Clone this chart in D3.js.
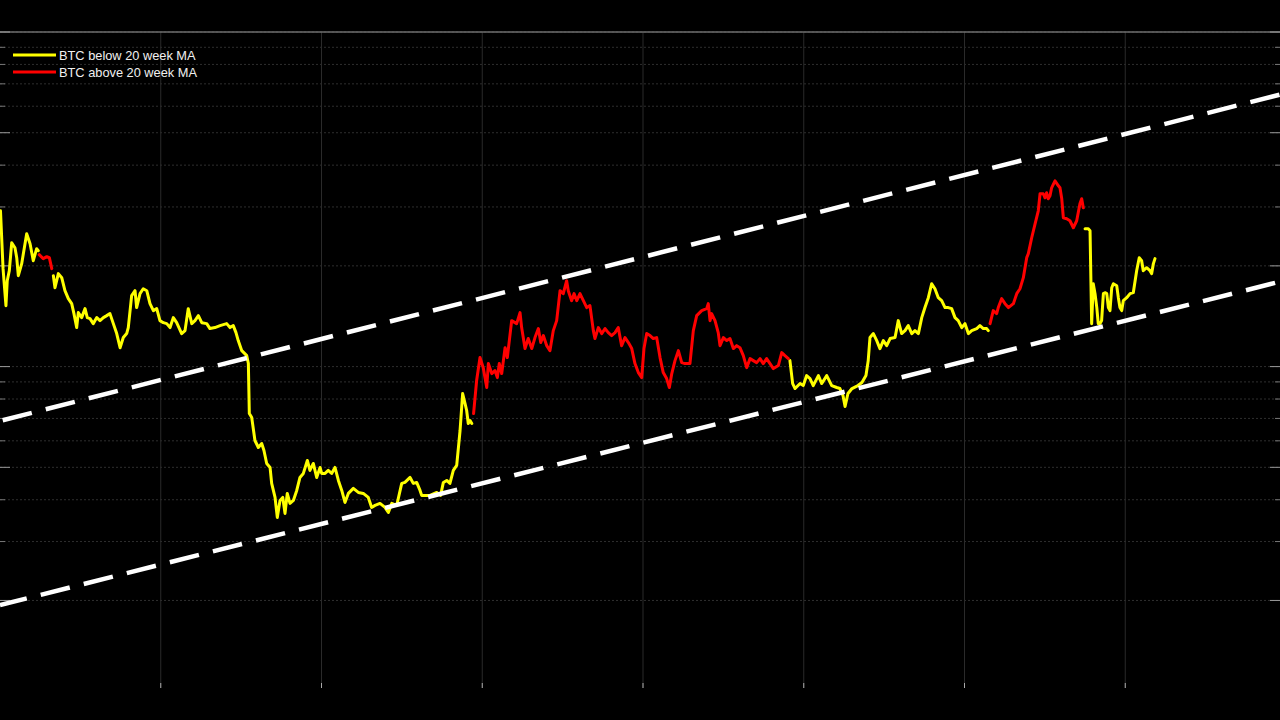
<!DOCTYPE html>
<html>
<head>
<meta charset="utf-8">
<script src="https://cdn.jsdelivr.net/npm/d3@7"></script>
<style>
  html, body { margin: 0; padding: 0; background: #000; }
  svg { display: block; }
</style>
</head>
<body>
<svg id="chart" width="1280" height="720"></svg>
<script>
// ---------------- DATA ----------------
// time (fractional years) and price (log scale)
const t = [
2015.003,2015.019,2015.037,2015.045,2015.058,2015.073,2015.093,2015.104,2015.114,2015.135,2015.166,2015.187,2015.207,2015.228,2015.238,
2015.244,2015.269,2015.291,2015.307,2015.322,
2015.332,2015.342,2015.363,2015.384,2015.404,2015.425,2015.446,2015.460,2015.477,2015.487,2015.508,2015.529,2015.543,2015.560,2015.580,
2015.602,2015.622,2015.643,2015.664,2015.684,2015.705,2015.726,2015.747,2015.767,2015.788,2015.798,2015.819,2015.840,2015.850,2015.871,
2015.891,2015.913,2015.933,2015.954,2015.975,2015.995,2016.016,2016.037,2016.058,2016.078,2016.099,2016.130,2016.151,2016.171,2016.193,
2016.213,2016.234,2016.255,2016.286,2016.306,2016.337,2016.369,2016.410,2016.431,2016.451,2016.468,2016.482,2016.504,2016.535,2016.545,
2016.551,2016.566,2016.586,2016.607,2016.628,2016.642,2016.659,2016.680,2016.690,2016.711,2016.725,2016.742,2016.759,2016.773,2016.787,
2016.804,2016.825,2016.846,2016.866,2016.887,2016.912,2016.928,2016.949,2016.970,2016.991,2017.001,2017.022,2017.042,2017.063,2017.084,
2017.105,2017.126,2017.146,2017.167,2017.198,2017.229,2017.260,2017.291,2017.312,2017.333,2017.364,2017.395,2017.416,2017.437,2017.468,
2017.499,2017.519,2017.551,2017.571,2017.592,2017.613,2017.623,2017.675,2017.717,2017.741,2017.758,2017.779,2017.799,2017.820,2017.841,
2017.862,2017.878,2017.893,2017.903,2017.913,2017.924,2017.935,
2017.946,2017.965,2017.986,2018.006,2018.028,2018.038,2018.059,2018.079,2018.094,2018.106,2018.121,2018.142,2018.156,2018.183,2018.214,
2018.235,2018.245,2018.266,2018.286,2018.308,2018.328,2018.349,2018.364,2018.380,2018.401,2018.421,2018.442,2018.463,2018.484,2018.504,
2018.525,2018.535,2018.556,2018.571,2018.588,2018.608,2018.629,2018.650,2018.670,2018.691,2018.701,2018.722,2018.743,2018.764,2018.784,
2018.805,2018.826,2018.846,2018.867,2018.888,2018.909,2018.930,2018.950,2018.971,2018.992,2019.006,2019.023,2019.044,2019.064,2019.085,
2019.106,2019.126,2019.147,2019.164,2019.179,2019.199,2019.220,2019.241,2019.261,2019.292,2019.313,2019.334,2019.365,2019.396,2019.406,
2019.417,2019.427,2019.448,2019.468,2019.479,2019.500,2019.521,2019.541,2019.562,2019.583,2019.603,2019.624,2019.645,2019.666,2019.686,
2019.707,2019.728,2019.748,2019.769,2019.790,2019.811,2019.842,2019.863,2019.883,2019.904,
2019.914,2019.931,2019.946,2019.977,2019.997,2020.018,2020.039,2020.059,2020.091,2020.112,2020.143,2020.174,2020.205,2020.225,2020.244,
2020.257,2020.275,2020.300,2020.337,2020.362,2020.387,2020.401,2020.412,2020.433,2020.454,2020.474,2020.495,2020.516,2020.537,2020.568,
2020.588,2020.609,2020.630,2020.650,2020.672,2020.692,2020.713,2020.734,2020.754,2020.775,2020.796,2020.816,2020.837,2020.858,2020.879,
2020.899,2020.920,2020.941,2020.961,2020.983,2021.003,2021.024,2021.045,2021.076,2021.096,2021.117,2021.138,2021.148,
2021.159,2021.179,2021.200,2021.210,2021.231,2021.252,2021.273,2021.304,2021.325,2021.345,2021.366,2021.387,2021.397,2021.418,2021.439,
2021.459,2021.470,2021.490,2021.501,2021.511,2021.521,2021.532,2021.542,2021.563,2021.584,2021.594,2021.605,2021.615,2021.636,2021.656,
2021.677,2021.698,2021.718,2021.729,2021.739,
2021.750,2021.770,2021.781,2021.791,2021.801,2021.812,2021.823,2021.832,2021.843,2021.853,2021.864,2021.874,2021.885,2021.895,2021.905,
2021.916,2021.926,2021.947,2021.957,2021.967,2021.978,2021.988,2022.009,2022.030,2022.050,2022.071,2022.087,2022.102,2022.112,2022.133,
2022.154,2022.164,2022.175,2022.185
];

const price = [
29220,19620,15210,18060,19350,23460,22660,21160,18690,20310,24950,23300,20730,22510,22200,
21600,21020,21310,21160,19620,
18690,17210,18960,18440,16860,15960,15420,14400,13080,14500,14010,14900,14010,13910,13440,
14010,13720,14010,14200,14400,13440,12550,11390,12210,12550,13080,16290,16860,15010,16520,
17090,16860,15420,14700,14900,13720,13530,13440,13080,14010,13530,12550,12810,14900,13440,
13720,14200,13530,13440,12990,13080,13260,13440,13080,13260,12630,11960,11160,10780,10210,
7240,7040,6014,5730,5890,5615,5135,4996,4476,4064,3542,3981,4064,3641,4178,
3900,3981,4265,4664,4794,5242,4894,5135,4664,4996,4794,4794,4894,4794,4996,
4569,4265,3926,4178,4324,4207,4178,4064,3794,3847,3900,3794,3666,3900,3847,
4476,4506,4664,4476,4506,4265,4121,4121,4207,4121,4506,4569,4476,4894,5065,
6442,8307,7756,7391,6760,6900,6760,
7240,9083,10640,9930,8660,10210,9530,9729,9270,10210,9530,11390,10640,13720,13440,
14500,13080,11320,12130,11320,12210,12990,11800,12380,11550,11160,12810,13720,16860,16520,
18060,16860,15740,16520,15740,16520,15740,15010,15210,12810,12130,13080,12550,12990,12630,
12380,12630,13080,11550,12210,11800,11320,10210,9596,9270,11320,12550,12380,12130,12210,
10640,9596,9209,8660,9530,10420,11160,10277,10210,10210,12810,14200,14700,14900,15420,
13720,14400,13720,12630,11550,12210,11960,12130,11320,11550,11390,10780,9930,10565,10420,
10277,10565,10210,10565,10210,9864,10070,11007,10780,10565,
10420,8898,8598,8898,8776,9400,9209,8776,9400,8898,9400,8776,8660,8598,8194,
7597,8307,8598,8776,8959,9400,10420,12210,12550,11960,11320,11960,11550,12130,12210,
13720,12550,12810,13260,12550,12810,12550,14010,15010,16070,17690,17090,16070,15740,15010,
15010,14900,14010,13720,13080,13440,12550,12810,12990,13260,12990,12990,12810,
13440,14700,14400,15010,15960,15420,15010,15420,16520,17090,18440,21160,21750,24270,26720,
29220,32850,32850,31950,33070,31740,32400,34230,35910,34700,34230,31740,27850,27660,27280,
26000,27280,30660,31740,29830,
25820,25820,25470,13440,17690,16520,15010,13440,13440,13720,16520,16630,16520,15010,14700,
17210,17690,17450,16070,15010,14700,15740,16070,16520,16630,19350,21160,20730,19350,19750,
19350,18960,20310,21020
];

// times where BTC crosses its 20 week MA (starts below)
const regimeSwitches = [2015.241, 2015.327, 2017.940, 2019.909, 2021.154, 2021.745];

// channel lines: [time, price] endpoints
const upperChannel = [[2015, 6880], [2023, 65700]];
const lowerChannel = [[2015, 1936], [2023, 18130]];

// axes
const xDomain = [2015, 2023];
const yDomain = [1095, 100000];
const xTicks = [2016, 2017, 2018, 2019, 2020, 2021, 2022];
const yGridTicks = [2000,3000,4000,5000,6000,7000,8000,9000,10000,20000,30000,40000,50000,60000,70000,80000,90000,100000];
const yMajorTicks = [2000, 5000, 10000, 20000, 50000, 100000];

const seriesLabels = ["BTC below 20 week MA", "BTC above 20 week MA"];
const seriesColors = ["#ffff00", "#ff0000"];

// ---------------- DRAW ----------------
const svg = d3.select("#chart");
const W = 1280, H = 720;
svg.append("rect").attr("width", W).attr("height", H).attr("fill", "#000");

const plotTop = 32, plotBottom = 688;
const x = d3.scaleLinear().domain(xDomain).range([0, 1286]);
const y = d3.scaleLog().domain(yDomain).range([plotBottom, plotTop]);

// grid
const grid = svg.append("g");
grid.selectAll("line.h").data(yGridTicks).join("line")
  .attr("x1", 0).attr("x2", W)
  .attr("y1", d => y(d)).attr("y2", d => y(d))
  .attr("stroke", "#2e2e2e").attr("stroke-width", 1)
  .attr("stroke-dasharray", "2,2");
grid.selectAll("line.v").data(xTicks).join("line")
  .attr("x1", d => x(d)).attr("x2", d => x(d))
  .attr("y1", plotTop).attr("y2", plotBottom)
  .attr("stroke", "#2a2a2a").attr("stroke-width", 1);

// top border
svg.append("line").attr("x1", 0).attr("x2", W).attr("y1", plotTop).attr("y2", plotTop)
  .attr("stroke", "#6e6e6e").attr("stroke-width", 1.5);

// y ticks (left and right)
const isMajor = d => yMajorTicks.includes(d);
svg.append("g").selectAll("line").data(yGridTicks).join("line")
  .attr("x1", 0).attr("x2", d => isMajor(d) ? 10 : 5)
  .attr("y1", d => y(d)).attr("y2", d => y(d))
  .attr("stroke", d => isMajor(d) ? "#9a9a9a" : "#777").attr("stroke-width", 1);
svg.append("g").selectAll("line").data(yGridTicks).join("line")
  .attr("x1", W).attr("x2", d => W - (isMajor(d) ? 10 : 5))
  .attr("y1", d => y(d)).attr("y2", d => y(d))
  .attr("stroke", d => isMajor(d) ? "#9a9a9a" : "#777").attr("stroke-width", 1);
// x ticks bottom
svg.append("g").selectAll("line").data(xTicks).join("line")
  .attr("x1", d => x(d)).attr("x2", d => x(d))
  .attr("y1", plotBottom).attr("y2", plotBottom - 5)
  .attr("stroke", "#aaa").attr("stroke-width", 1);

// price series
const above = t.map(v => regimeSwitches.filter(s => s < v).length % 2 === 1);
const pts = t.map((v, i) => ({ t: v, p: price[i], above: above[i] }));

const lineBelow = d3.line().defined(d => !d.above).x(d => x(d.t)).y(d => y(d.p));
const lineAbove = d3.line().defined(d => d.above).x(d => x(d.t)).y(d => y(d.p));

svg.append("path").datum(pts).attr("d", lineBelow)
  .attr("fill", "none").attr("stroke", seriesColors[0]).attr("stroke-width", 3)
  .attr("stroke-linejoin", "round").attr("stroke-linecap", "round");
svg.append("path").datum(pts).attr("d", lineAbove)
  .attr("fill", "none").attr("stroke", seriesColors[1]).attr("stroke-width", 3)
  .attr("stroke-linejoin", "round").attr("stroke-linecap", "round");

// channel lines
const chLine = d3.line().x(d => x(d[0])).y(d => y(d[1]));
svg.append("path").datum(upperChannel).attr("d", chLine)
  .attr("fill", "none").attr("stroke", "#fff").attr("stroke-width", 4.5)
  .attr("stroke-dasharray", "30,14.4").attr("stroke-dashoffset", 41.6);
svg.append("path").datum(lowerChannel).attr("d", chLine)
  .attr("fill", "none").attr("stroke", "#fff").attr("stroke-width", 4.5)
  .attr("stroke-dasharray", "30,14.4").attr("stroke-dashoffset", 2.4);

// legend
const legend = svg.append("g");
seriesLabels.forEach((lab, i) => {
  const ly = 55 + i * 17;
  legend.append("line").attr("x1", 13).attr("x2", 56).attr("y1", ly).attr("y2", ly)
    .attr("stroke", seriesColors[i]).attr("stroke-width", 3);
  legend.append("text").attr("x", 59).attr("y", ly + 4.6)
    .attr("fill", "#f0f0f0")
    .attr("font-family", "'Liberation Sans', Arial, sans-serif")
    .attr("font-size", 12.8)
    .text(lab);
});
</script>
</body>
</html>
